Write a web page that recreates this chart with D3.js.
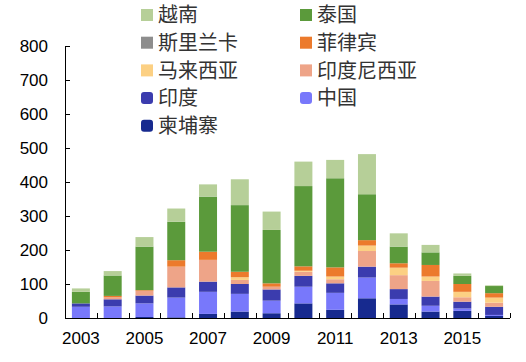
<!DOCTYPE html>
<meta charset="utf-8">
<style>
  body { margin: 0; background: #fff; }
  text { font-family: Arial, "Liberation Sans", sans-serif; }
  .legend text { font-family: "Noto Sans CJK SC", sans-serif; fill: #333; }
</style>
<svg width="526" height="362"></svg>
<script src="https://d3js.org/d3.v7.min.js"></script>
<script>

// years along the x axis
var years = [2003, 2004, 2005, 2006, 2007, 2008, 2009, 2010, 2011, 2012, 2013, 2014, 2015, 2016];

// series, bottom of the stack first
var cambodia  = [0, 0, 3, 2, 12, 19, 14, 43, 24, 58, 40, 19, 21, 6];
var china     = [33, 34, 40, 58, 65, 52, 37, 49, 50, 61, 16, 17, 7, 3];
var india     = [10, 21, 23, 30, 30, 29, 33, 32, 28, 32, 29, 27, 20, 24];
var indonesia = [0, 6, 14, 61, 64, 12, 8, 12, 12, 46, 41, 46, 13, 12];
var malaysia  = [0, 0, 0, 0, 0, 8, 0, 3, 8, 16, 22, 13, 16, 15];
var philippines = [0, 4, 2, 19, 24, 16, 10, 13, 27, 16, 13, 34, 23, 13];
var srilanka  = [0, 0, 0, 0, 0, 0, 0, 0, 0, 0, 0, 0, 0, 0];
var thailand  = [34, 60, 128, 113, 162, 196, 157, 236, 262, 135, 49, 37, 24, 21];
var vietnam   = [10, 13, 28, 39, 36, 76, 54, 72, 54, 118, 39, 22, 7, 2];

var yTicks = [0, 100, 200, 300, 400, 500, 600, 700, 800];
var xLabels = [2003, 2005, 2007, 2009, 2011, 2013, 2015];

var series = [
  {key: "柬埔寨", values: cambodia, color: "#172a8f", round: true},
  {key: "中国", values: china, color: "#7878fb", round: true},
  {key: "印度", values: india, color: "#3b3cae", round: true},
  {key: "印度尼西亚", values: indonesia, color: "#eea488"},
  {key: "马来西亚", values: malaysia, color: "#fcd083"},
  {key: "菲律宾", values: philippines, color: "#ec7a2c"},
  {key: "斯里兰卡", values: srilanka, color: "#8d8d8d"},
  {key: "泰国", values: thailand, color: "#5b9a3b"},
  {key: "越南", values: vietnam, color: "#b6cf98"}
];

// legend layout order (rows of two)
var legendOrder = ["越南", "泰国", "斯里兰卡", "菲律宾", "马来西亚", "印度尼西亚", "印度", "中国", "柬埔寨"];

var svg = d3.select("svg");
var mLeft = 65, mRight = 510, mTop = 46, mBottom = 318;

var data = years.map(function(y, i) {
  var row = {year: y};
  series.forEach(function(s) { row[s.key] = s.values[i]; });
  return row;
});

var xb = d3.scaleBand().domain(years).range([mLeft, mRight]);
var y = d3.scaleLinear().domain([0, 800]).range([mBottom, mTop]);
var color = {};
series.forEach(function(s) { color[s.key] = s.color; });

var stack = d3.stack().keys(series.map(function(s) { return s.key; }))(data);

svg.append("g")
  .selectAll("g")
  .data(stack)
  .enter().append("g")
    .attr("fill", function(d) { return color[d.key]; })
  .selectAll("rect")
  .data(function(d) { return d; })
  .enter().append("rect")
    .attr("x", function(d) { return xb(d.data.year) + (xb.bandwidth() - 18) / 2; })
    .attr("width", 18)
    .attr("y", function(d) { return y(d[1]); })
    .attr("height", function(d) { return Math.max(0, y(d[0]) - y(d[1])); });

// y axis
var yAxis = svg.append("g").attr("transform", "translate(" + mLeft + ",0)")
  .call(d3.axisRight(y).tickValues(yTicks).tickSize(5).tickFormat(""));
yAxis.select(".domain").attr("d", "M0.5," + mTop + "V" + mBottom);
yAxis.selectAll("line").attr("stroke", "#000");
svg.append("g")
  .selectAll("text")
  .data(yTicks)
  .enter().append("text")
    .attr("x", 48)
    .attr("y", function(d) { return y(d); })
    .attr("dy", "0.36em")
    .attr("text-anchor", "end")
    .attr("font-size", 17)
    .text(function(d) { return d; });

// x axis: line plus ticks at category boundaries, pointing up
var xg = svg.append("g");
xg.append("line").attr("x1", mLeft).attr("x2", mRight).attr("y1", mBottom + 0.5).attr("y2", mBottom + 0.5).attr("stroke", "#000");
xg.selectAll(".tk")
  .data(years)
  .enter().append("line")
    .attr("x1", function(d) { return Math.round(xb(d) + xb.bandwidth()) + 0.5; })
    .attr("x2", function(d) { return Math.round(xb(d) + xb.bandwidth()) + 0.5; })
    .attr("y1", mBottom).attr("y2", mBottom - 5)
    .attr("stroke", "#000");
xg.selectAll("text")
  .data(xLabels)
  .enter().append("text")
    .attr("x", function(d) { return xb(d) + xb.bandwidth() / 2; })
    .attr("y", 344)
    .attr("text-anchor", "middle")
    .attr("font-size", 17)
    .text(function(d) { return d; });

// legend
var legend = svg.append("g").attr("class", "legend")
  .selectAll("g")
  .data(legendOrder)
  .enter().append("g")
    .attr("transform", function(d, i) {
      return "translate(" + (i % 2 === 0 ? 141 : 300) + "," + (15 + Math.floor(i / 2) * 27.7) + ")";
    });

legend.append("rect")
  .attr("y", -6)
  .attr("width", 12)
  .attr("height", 12)
  .attr("rx", function(d) { return series.find(function(s) { return s.key === d; }).round ? 3 : 0; })
  .attr("fill", function(d) { return color[d]; });

legend.append("text")
  .attr("x", 17)
  .attr("dy", "0.36em")
  .attr("font-size", 20)
  .text(function(d) { return d; });

</script>
